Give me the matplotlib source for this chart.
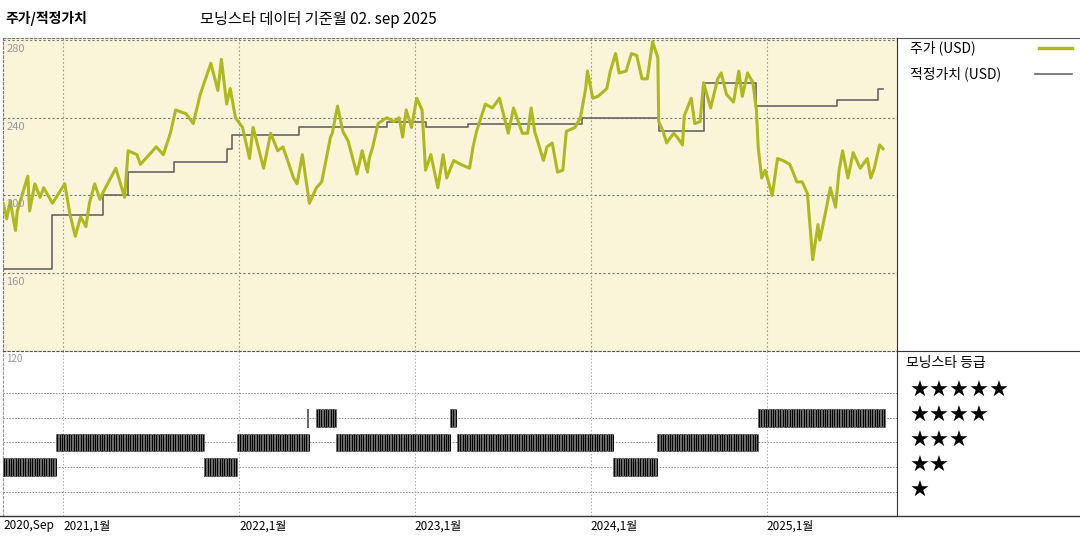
import matplotlib
matplotlib.use("Agg")
import matplotlib.pyplot as plt
import numpy as np
from matplotlib.lines import Line2D

plt.rcParams['font.family'] = ['Noto Sans CJK KR', 'DejaVu Sans']

price_t = [2020.66,2020.68,2020.70,2020.73,2020.74,2020.80,2020.81,2020.84,2020.87,2020.89,2020.94,
 2021.01,2021.04,2021.07,2021.10,2021.13,2021.15,2021.18,2021.21,2021.23,2021.30,2021.35,2021.37,2021.42,
 2021.44,2021.53,2021.57,2021.61,2021.64,2021.70,2021.74,2021.78,2021.84,2021.88,2021.90,2021.93,2021.95,
 2021.98,2022.02,2022.06,2022.08,2022.14,2022.18,2022.22,2022.25,2022.31,2022.33,2022.36,2022.40,2022.44,
 2022.47,2022.52,2022.53,2022.56,2022.59,2022.62,2022.67,2022.70,2022.73,2022.74,2022.76,2022.79,2022.84,
 2022.88,2022.91,2022.93,2022.95,2022.98,2023.01,2023.04,2023.06,2023.09,2023.13,2023.16,2023.18,2023.22,
 2023.26,2023.31,2023.33,2023.35,2023.40,2023.44,2023.48,2023.53,2023.56,2023.61,2023.64,2023.66,2023.68,
 2023.73,2023.75,2023.78,2023.81,2023.84,2023.86,2023.91,2023.94,2023.97,2023.98,2024.01,2024.04,2024.09,
 2024.11,2024.14,2024.16,2024.20,2024.23,2024.26,2024.29,2024.32,2024.35,2024.38,2024.385,2024.41,2024.43,
 2024.47,2024.49,2024.52,2024.53,2024.57,2024.59,2024.62,2024.64,2024.68,2024.72,2024.74,2024.77,2024.81,
 2024.84,2024.86,2024.89,2024.92,2024.94,2024.95,2024.97,2024.99,2025.03,2025.06,2025.09,2025.13,2025.17,
 2025.20,2025.23,2025.26,2025.29,2025.30,2025.33,2025.36,2025.39,2025.41,2025.43,2025.46,2025.49,2025.53,
 2025.57,2025.59,2025.61,2025.64,2025.66]
price_v = [196,188,197,182,192,210,192,206,199,204,196,
 206,190,179,189,184,196,206,198,202,214,199,223,221,
 216,225,221,232,244,242,237,252,268,254,270,247,255,
 240,235,219,235,214,232,223,225,209,206,221,196,204,
 207,230,232,246,233,228,211,223,212,219,225,237,240,
 238,240,230,244,235,250,244,213,221,204,221,209,218,
 216,214,225,233,247,245,250,232,245,232,232,245,233,
 218,225,227,212,213,233,235,240,255,264,250,251,255,
 264,273,263,264,273,272,260,260,279,271,238,233,227,
 232,230,226,241,250,237,238,258,245,260,263,252,248,
 264,251,263,258,244,225,209,213,200,219,218,216,207,
 207,201,167,185,177,190,204,194,213,223,209,222,214,
 219,209,214,226,224]

fair_t = [2020.66,2020.94,2021.23,2021.37,2021.63,2021.93,2021.96,2022.34,2022.84,2023.06,2023.30,2023.95,
 2024.385,2024.64,2024.94,2025.40,2025.63,2025.66]
fair_v = [162,190,200,212,217,224,231,235,238,235,237,240,233,258,246,249,255,255]

rating_start = [2020.66,2020.96,2021.80,2021.99,2022.385,2022.44,2022.55,2023.20,2023.24,2024.125,2024.375,2024.95]
rating_end   = [2020.96,2021.80,2021.99,2022.40,2022.395,2022.55,2023.20,2023.235,2024.125,2024.375,2024.95,2025.67]
rating_val   = [2,3,2,3,4,4,3,4,3,2,3,4]

xticks = [2020.67,2021.0,2022.0,2023.0,2024.0,2025.0]
xlabels = ['2020,Sep','2021,1월','2022,1월','2023,1월','2024,1월','2025,1월']

W, H = 1080, 540
fig = plt.figure(figsize=(10.8, 5.4), dpi=100)
xl = (2020.659, 2025.739)
def rect(x0, y0, x1, y1):
    return [x0/W, 1-y1/H, (x1-x0)/W, (y1-y0)/H]

ax = fig.add_axes(rect(3, 38, 897, 351))
ax.set_facecolor('#faf5d9')
ax.plot(price_t, price_v, color='#b0b820', lw=2.2, zorder=3)
ax.step(fair_t, fair_v, where='post', color='#666666', lw=1.2, zorder=2)
ax.set_xlim(*xl); ax.set_ylim(120, 281)
for v in [160, 200, 240, 280]:
    ax.axhline(v, color='#777777', ls=(0, (2, 2)), lw=0.8, zorder=1)
for x in xticks[1:]:
    ax.axvline(x, color='#999999', ls=(0, (1.5, 2)), lw=0.8, zorder=1)
for v in [280, 240, 200, 160]:
    ax.text(xl[0]+0.02, v-2, str(v), color='#999999', fontsize=8, va='top', ha='left', zorder=4)
ax.set_xticks([]); ax.set_yticks([])
for s in ax.spines.values():
    s.set_color('#777777'); s.set_linestyle((0, (2, 2))); s.set_linewidth(0.8)
ax.spines['right'].set_linestyle('-'); ax.spines['right'].set_color('#333333')

bx = fig.add_axes(rect(3, 351, 897, 516))
bx.set_xlim(*xl); bx.set_ylim(0.04, 6.68)
for r in [1, 2, 3, 4, 5]:
    bx.axhline(r, color='#888888', ls=(0, (1.5, 1.5)), lw=0.7, zorder=1)
for x in xticks[1:]:
    bx.axvline(x, color='#aaaaaa', ls=(0, (1.5, 2)), lw=0.7, zorder=1)
for s, e, r in zip(rating_start, rating_end, rating_val):
    xs = np.arange(s, e, 1/365*1.2)
    if len(xs) == 0:
        xs = np.array([s])
    bx.vlines(xs, r-0.36, r+0.36, color='black', lw=0.7, zorder=3)
    bx.vlines(xs[::3], r-0.36, r+0.36, color='#999999', lw=0.5, zorder=4)
bx.text(xl[0]+0.02, 6.55, '120', color='#999999', fontsize=7, va='top')
bx.set_xticks([]); bx.set_yticks([])
for k, s in bx.spines.items():
    s.set_color('#999999'); s.set_linestyle((0, (2, 2))); s.set_linewidth(0.8)
bx.spines['right'].set_linestyle('-'); bx.spines['right'].set_color('#333333')
bx.spines['top'].set_color('#555555')
for i, (x, lab) in enumerate(zip(xticks, xlabels)):
    bx.text(xl[0] if i == 0 else x, -0.1, lab, fontsize=8.5, va='top', ha='left', transform=bx.transData)

fig.add_artist(Line2D([897/W, 1], [1-38/H]*2, color='#555555', lw=0.8))
fig.add_artist(Line2D([897/W, 1], [1-351/H]*2, color='#333333', lw=0.8))
fig.add_artist(Line2D([0, 1], [1-516/H]*2, color='#333333', lw=1.0))

fig.text(5/W, 1-18/H, '주가/적정가치', fontsize=10, fontweight='bold', va='center')
fig.text(200/W, 1-20/H, '모닝스타 데이터 기준월 02. sep 2025', fontsize=11, va='center')
fig.text(910/W, 1-48/H, '주가 (USD)', fontsize=10, va='center')
fig.add_artist(Line2D([1039/W, 1072/W], [1-48/H]*2, color='#b0b820', lw=2.5))
fig.text(910/W, 1-74/H, '적정가치 (USD)', fontsize=10, va='center')
fig.add_artist(Line2D([1035/W, 1072/W], [1-74/H]*2, color='#666666', lw=1.2))
fig.text(906/W, 1-363/H, '모닝스타 등급', fontsize=10, va='center')
for i, n in enumerate([5, 4, 3, 2, 1]):
    fig.text(910/W, 1-(391+25*i)/H, '★'*n, fontsize=16, va='center',
             family=['DejaVu Sans'])

fig.savefig('out.png', dpi=100)
